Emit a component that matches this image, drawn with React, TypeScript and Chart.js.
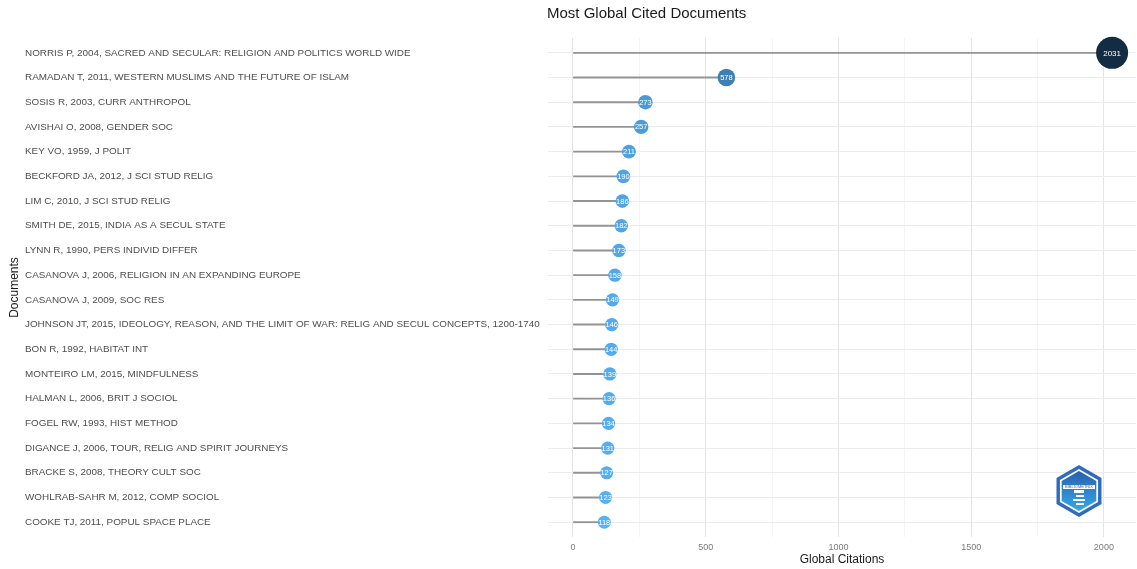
import { useEffect, useRef } from "react";
import { Chart, registerables } from "chart.js";

Chart.register(...registerables);

const documents: string[] = [
  "NORRIS P, 2004, SACRED AND SECULAR: RELIGION AND POLITICS WORLD WIDE",
  "RAMADAN T, 2011, WESTERN MUSLIMS AND THE FUTURE OF ISLAM",
  "SOSIS R, 2003, CURR ANTHROPOL",
  "AVISHAI O, 2008, GENDER SOC",
  "KEY VO, 1959, J POLIT",
  "BECKFORD JA, 2012, J SCI STUD RELIG",
  "LIM C, 2010, J SCI STUD RELIG",
  "SMITH DE, 2015, INDIA AS A SECUL STATE",
  "LYNN R, 1990, PERS INDIVID DIFFER",
  "CASANOVA J, 2006, RELIGION IN AN EXPANDING EUROPE",
  "CASANOVA J, 2009, SOC RES",
  "JOHNSON JT, 2015, IDEOLOGY, REASON, AND THE LIMIT OF WAR: RELIG AND SECUL CONCEPTS, 1200-1740",
  "BON R, 1992, HABITAT INT",
  "MONTEIRO LM, 2015, MINDFULNESS",
  "HALMAN L, 2006, BRIT J SOCIOL",
  "FOGEL RW, 1993, HIST METHOD",
  "DIGANCE J, 2006, TOUR, RELIG AND SPIRIT JOURNEYS",
  "BRACKE S, 2008, THEORY CULT SOC",
  "WOHLRAB-SAHR M, 2012, COMP SOCIOL",
  "COOKE TJ, 2011, POPUL SPACE PLACE",
];

const citations: number[] = [
  2031, 578, 273, 257, 211, 190, 186, 182, 173, 158, 149, 146, 144, 139, 136,
  134, 131, 127, 123, 118,
];

const xMajorTicks: number[] = [0, 500, 1000, 1500, 2000];
const xMinorTicks: number[] = [250, 750, 1250, 1750];

const chartTitle = "Most Global Cited Documents";
const xTitle = "Global Citations";
const yTitle = "Documents";

const LOW = [86, 177, 247];
const HIGH = [19, 43, 67];

const vMin = Math.min(...citations);
const vMax = Math.max(...citations);

function frac(v: number) {
  return (v - vMin) / (vMax - vMin);
}

function colorFor(v: number) {
  const t = Math.pow(frac(v), 0.7);
  const c = LOW.map((l, i) => Math.round(l + (HIGH[i] - l) * t));
  return `rgb(${c[0]},${c[1]},${c[2]})`;
}

function radiusFor(v: number) {
  return 6.5 + 9.5 * frac(v);
}

const FONT = "'Liberation Sans', Arial, Helvetica, sans-serif";

const extrasPlugin = {
  id: "extras",
  afterDatasetsDraw(chart: any) {
    const ctx = chart.ctx;
    const meta = chart.getDatasetMeta(0);
    ctx.save();
    ctx.textAlign = "center";
    ctx.textBaseline = "middle";
    ctx.fillStyle = "#ffffff";
    meta.data.forEach((pt: any, i: number) => {
      const v = citations[i];
      ctx.font = `${v > 1000 ? 8 : 7.5}px ${FONT}`;
      ctx.fillText(String(v), pt.x, pt.y + 0.5);
    });
    ctx.restore();
  },
  afterDraw(chart: any) {
    const ctx = chart.ctx;
    const area = chart.chartArea;
    ctx.save();
    ctx.fillStyle = "#1a1a1a";
    ctx.font = `15px ${FONT}`;
    ctx.textAlign = "left";
    ctx.textBaseline = "middle";
    ctx.fillText(chartTitle, area.left - 1, 14);

    // y axis title
    ctx.save();
    ctx.translate(15, (area.top + area.bottom) / 2);
    ctx.rotate(-Math.PI / 2);
    ctx.font = `12px ${FONT}`;
    ctx.textAlign = "center";
    ctx.textBaseline = "middle";
    ctx.fillText(yTitle, 0, 0);
    ctx.restore();

    // small hexagon logo (watermark)
    const cx = 1079;
    const cy = 491;
    const hex = (r: number) => {
      ctx.beginPath();
      for (let k = 0; k < 6; k++) {
        const a = Math.PI / 6 + (k * Math.PI) / 3;
        const px = cx + r * Math.cos(a);
        const py = cy + r * Math.sin(a);
        if (k === 0) ctx.moveTo(px, py);
        else ctx.lineTo(px, py);
      }
      ctx.closePath();
    };
    ctx.fillStyle = "#2f6cc0";
    hex(26);
    ctx.fill();
    ctx.fillStyle = "#ffffff";
    hex(22);
    ctx.fill();
    const g = ctx.createLinearGradient(cx, cy - 20, cx, cy + 20);
    g.addColorStop(0, "#2a5fb0");
    g.addColorStop(1, "#34a9e6");
    ctx.fillStyle = g;
    hex(20);
    ctx.fill();
    ctx.fillStyle = "#ffffff";
    ctx.fillRect(cx - 16, cy - 6, 32, 4);
    ctx.fillStyle = "#2a5fb0";
    ctx.font = `4px ${FONT}`;
    ctx.textAlign = "center";
    ctx.fillText("BIBLIOMETRIX", cx, cy - 4);
    ctx.fillStyle = "#ffffff";
    ctx.fillRect(cx - 5, cy - 1, 10, 3);
    ctx.fillRect(cx - 3, cy + 4, 8, 2);
    ctx.fillRect(cx - 6, cy + 8, 12, 2);
    ctx.fillRect(cx - 3, cy + 12, 8, 2);
    ctx.restore();
  },
};

export default function App() {
  const canvasRef = useRef<HTMLCanvasElement | null>(null);

  useEffect(() => {
    if (!canvasRef.current) return;
    Chart.defaults.font.family = FONT;
    const points = citations.map((v, i) => ({ x: v, y: i }));
    const chart = new Chart(canvasRef.current, {
      type: "bar",
      data: {
        datasets: [
          {
            type: "scatter",
            data: points,
            order: 0,
            clip: false,
            pointRadius: (c: any) => radiusFor(citations[c.dataIndex] ?? vMin),
            pointHoverRadius: (c: any) => radiusFor(citations[c.dataIndex] ?? vMin),
            backgroundColor: (c: any) => colorFor(citations[c.dataIndex] ?? vMin),
            borderColor: (c: any) => colorFor(citations[c.dataIndex] ?? vMin),
            borderWidth: 0,
            xAxisID: "x",
            yAxisID: "y",
          } as any,
          {
            type: "bar",
            indexAxis: "y",
            data: points,
            order: 1,
            backgroundColor: "#939393",
            barThickness: 1.2,
            borderWidth: 0,
            xAxisID: "x",
            yAxisID: "y",
          } as any,
        ],
      },
      options: {
        animation: false,
        responsive: false,
        maintainAspectRatio: false,
        layout: { autoPadding: false, padding: { top: 38, right: 1, left: 25, bottom: 2 } },
        plugins: {
          legend: { display: false },
          tooltip: { enabled: false },
        },
        scales: {
          x: {
            type: "linear",
            position: "bottom",
            offset: false,
            min: -94,
            max: 2121,
            afterBuildTicks: (scale: any) => {
              scale.ticks = [...xMajorTicks, ...xMinorTicks]
                .sort((a, b) => a - b)
                .map((v) => ({ value: v }));
            },
            afterFit: (scale: any) => {
              scale.height = 30;
            },
            border: { display: false },
            grid: {
              offset: false,
              drawTicks: false,
              color: (c: any) =>
                xMajorTicks.includes(c.tick?.value) ? "#e4e4e4" : "#f1f1f1",
              lineWidth: (c: any) => (xMajorTicks.includes(c.tick?.value) ? 1 : 0.8),
            },
            ticks: {
              autoSkip: false,
              maxRotation: 0,
              padding: 5,
              color: "#7a7a7a",
              font: { size: 9 },
              callback: (v: any) => (xMajorTicks.includes(Number(v)) ? String(v) : ""),
            },
            title: {
              display: true,
              text: xTitle,
              color: "#1a1a1a",
              font: { size: 12 },
              padding: { top: 0, bottom: 0 },
            },
          },
          y: {
            type: "linear",
            position: "left",
            reverse: true,
            offset: false,
            min: -0.6,
            max: 19.6,
            afterBuildTicks: (scale: any) => {
              scale.ticks = documents.map((_, i) => ({ value: i }));
            },
            afterFit: (scale: any) => {
              scale.width = 523;
            },
            border: { display: false },
            grid: {
              offset: false,
              drawTicks: false,
              color: "#ececec",
              lineWidth: 1,
            },
            ticks: {
              autoSkip: false,
              crossAlign: "far",
              padding: 7,
              color: "#4d4d4d",
              font: { size: 9.9 },
              callback: (_v: any, i: number) => documents[i],
            },
            title: { display: false },
          },
        },
      } as any,
      plugins: [extrasPlugin],
    });
    return () => chart.destroy();
  }, []);

  return (
    <div
      style={{
        position: "fixed",
        left: 0,
        top: 0,
        width: 1137,
        height: 569,
        background: "#ffffff",
      }}
    >
      <canvas ref={canvasRef} width={1137} height={569} style={{ display: "block" }} />
    </div>
  );
}
